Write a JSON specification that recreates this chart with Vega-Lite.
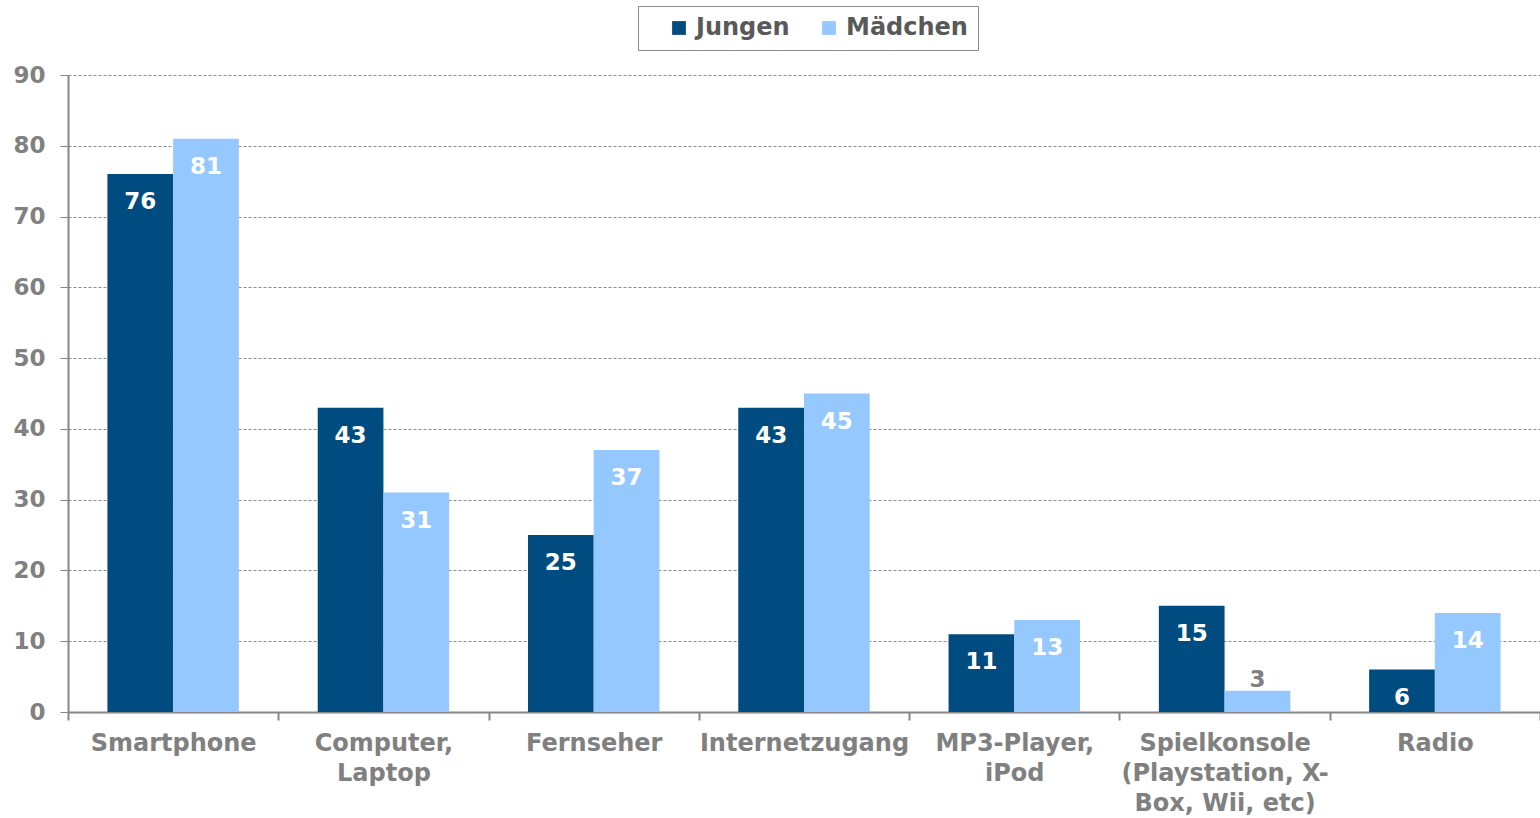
{
  "$schema": "https://vega.github.io/schema/vega-lite/v6.json",
  "width": 1472,
  "height": 637,
  "autosize": {"type": "none"},
  "padding": {"left": 68, "top": 75, "right": 0, "bottom": 106},
  "background": "white",
  "config": {
    "view": {"stroke": null},
    "font": "DejaVu Sans"
  },
  "data": {
    "values": [
      {"category": "Smartphone", "gender": "Jungen", "value": 76},
      {"category": "Smartphone", "gender": "Mädchen", "value": 81},
      {"category": "Computer,|Laptop", "gender": "Jungen", "value": 43},
      {"category": "Computer,|Laptop", "gender": "Mädchen", "value": 31},
      {"category": "Fernseher", "gender": "Jungen", "value": 25},
      {"category": "Fernseher", "gender": "Mädchen", "value": 37},
      {"category": "Internetzugang", "gender": "Jungen", "value": 43},
      {"category": "Internetzugang", "gender": "Mädchen", "value": 45},
      {"category": "MP3-Player,|iPod", "gender": "Jungen", "value": 11},
      {"category": "MP3-Player,|iPod", "gender": "Mädchen", "value": 13},
      {"category": "Spielkonsole|(Playstation, X-|Box, Wii, etc)", "gender": "Jungen", "value": 15},
      {"category": "Spielkonsole|(Playstation, X-|Box, Wii, etc)", "gender": "Mädchen", "value": 3},
      {"category": "Radio", "gender": "Jungen", "value": 6},
      {"category": "Radio", "gender": "Mädchen", "value": 14}
    ]
  },
  "encoding": {
    "x": {
      "field": "category",
      "type": "nominal",
      "sort": null,
      "scale": {"paddingInner": 0, "paddingOuter": 0},
      "axis": {
        "title": null,
        "labelAngle": 0,
        "labelExpr": "split(datum.label, '|')",
        "labelFont": "DejaVu Sans",
        "labelFontWeight": "bold",
        "labelFontSize": 24,
        "labelColor": "#808080",
        "labelLineHeight": 30,
        "labelPadding": 11,
        "labelLimit": 0,
        "tickBand": "extent",
        "tickColor": "#868686",
        "tickWidth": 2,
        "tickSize": 8,
        "domainColor": "#868686",
        "domainWidth": 2,
        "grid": false
      }
    },
    "xOffset": {
      "field": "gender",
      "type": "nominal",
      "sort": ["Jungen", "Mädchen"],
      "scale": {"paddingInner": 0, "paddingOuter": 0.6}
    },
    "y": {
      "field": "value",
      "type": "quantitative",
      "scale": {"domain": [0, 90], "nice": false},
      "axis": {
        "title": null,
        "values": [0, 10, 20, 30, 40, 50, 60, 70, 80, 90],
        "labelFont": "DejaVu Sans",
        "labelFontWeight": "bold",
        "labelFontSize": 23,
        "labelColor": "#808080",
        "labelPadding": 15,
        "tickColor": "#868686",
        "tickSize": 8,
        "tickWidth": 1,
        "domainColor": "#868686",
        "domainWidth": 2,
        "grid": true,
        "gridColor": "#8c8c8c",
        "gridDash": [3, 2],
        "gridWidth": 1
      }
    }
  },
  "layer": [
    {
      "mark": {"type": "bar"},
      "encoding": {
        "color": {
          "field": "gender",
          "type": "nominal",
          "scale": {"domain": ["Jungen", "Mädchen"], "range": ["#004b7f", "#94c8fe"]},
          "legend": {
            "title": null,
            "orient": "none",
            "legendX": 570,
            "legendY": -69,
            "direction": "horizontal",
            "strokeColor": "#8a8a8a",
            "padding": 10,
            "symbolType": "square",
            "symbolSize": 190,
            "symbolStrokeWidth": 0,
            "symbolOffset": 19,
            "labelFont": "DejaVu Sans",
            "labelFontWeight": "bold",
            "labelFontSize": 24,
            "labelColor": "#595959",
            "labelOffset": 5,
            "columnPadding": 8
          }
        }
      }
    },
    {
      "transform": [{"filter": "datum.value >= 5"}],
      "mark": {
        "type": "text",
        "baseline": "alphabetic",
        "dy": 35,
        "font": "DejaVu Sans",
        "fontWeight": "bold",
        "fontSize": 23,
        "color": "white"
      },
      "encoding": {"text": {"field": "value", "type": "quantitative"}}
    },
    {
      "transform": [{"filter": "datum.value < 5"}],
      "mark": {
        "type": "text",
        "baseline": "alphabetic",
        "dy": -4,
        "font": "DejaVu Sans",
        "fontWeight": "bold",
        "fontSize": 23,
        "color": "#808080"
      },
      "encoding": {"text": {"field": "value", "type": "quantitative"}}
    }
  ]
}
